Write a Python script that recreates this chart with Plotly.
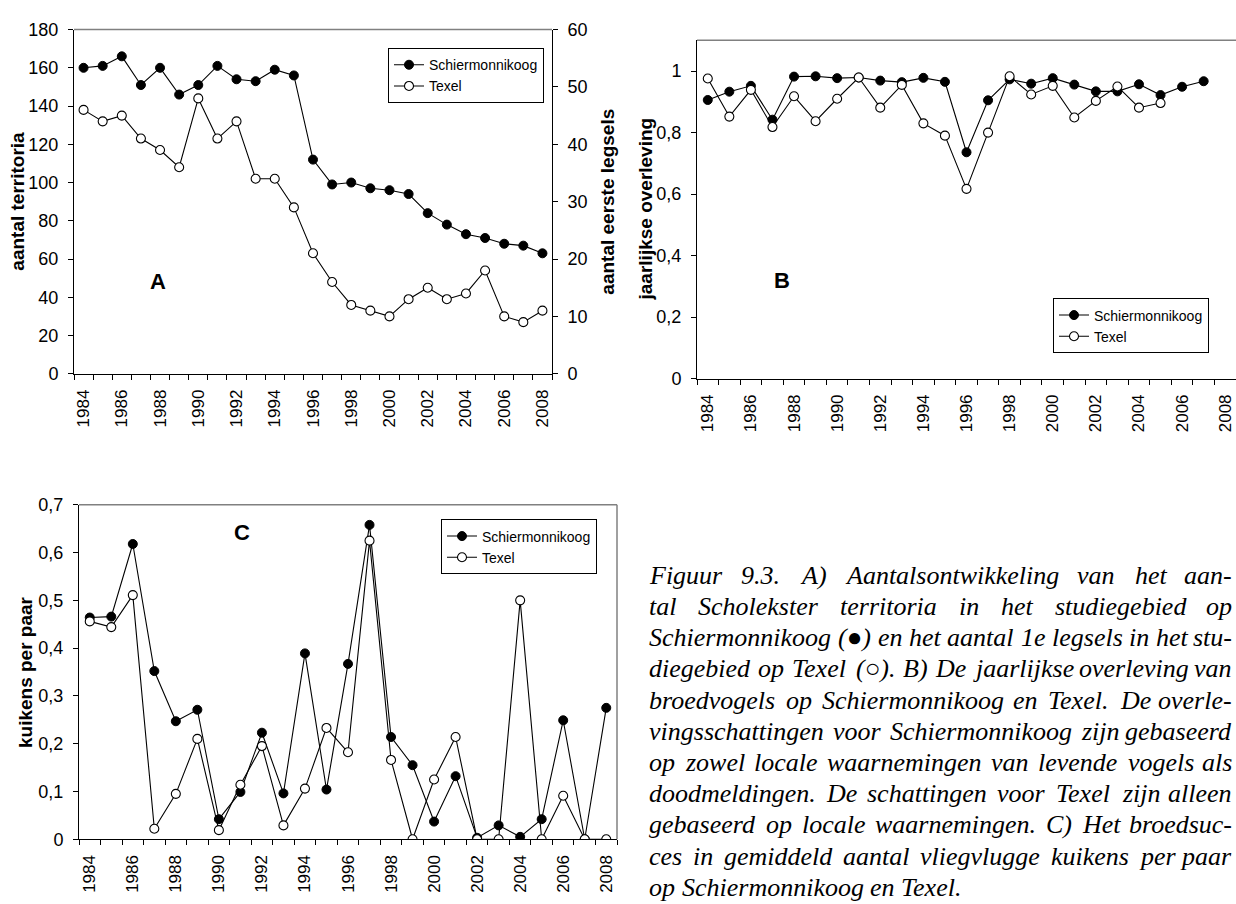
import plotly.graph_objects as go

# ---------------- data ----------------
years = list(range(1984, 2009))
label_years = list(range(1984, 2009, 2))

# A) territories on Schiermonnikoog (left axis) and first clutches on Texel (right axis)
a_territoria_schier = [160, 161, 166, 151, 160, 146, 151, 161, 154, 153, 159, 156, 112,
                       99, 100, 97, 96, 94, 84, 78, 73, 71, 68, 67, 63]
a_legsels_texel = [46, 44, 45, 41, 39, 36, 48, 41, 44, 34, 34, 29, 21,
                   16, 12, 11, 10, 13, 15, 13, 14, 18, 10, 9, 11]

# B) annual survival of breeding birds
b_overleving_schier = [0.906, 0.933, 0.952, 0.842, 0.982, 0.983, 0.977, 0.979, 0.969, 0.964,
                       0.978, 0.965, 0.736, 0.905, 0.973, 0.959, 0.977, 0.956, 0.934, 0.934,
                       0.957, 0.922, 0.949, 0.967, None]
b_overleving_texel = [0.976, 0.852, 0.939, 0.818, 0.918, 0.837, 0.910, 0.979, 0.881, 0.955,
                      0.830, 0.790, 0.617, 0.800, 0.983, 0.924, 0.952, 0.849, 0.903, 0.950,
                      0.881, 0.896, None, None, None]

# C) fledged chicks per pair
c_kuikens_schier = [0.464, 0.466, 0.618, 0.352, 0.247, 0.271, 0.042, 0.099, 0.223, 0.096,
                    0.389, 0.104, 0.367, 0.658, 0.214, 0.155, 0.037, 0.132, 0.003, 0.029,
                    0.005, 0.042, 0.249, 0.0, 0.275]
c_kuikens_texel = [0.456, 0.444, 0.511, 0.022, 0.095, 0.210, 0.019, 0.114, 0.195, 0.029,
                   0.106, 0.233, 0.182, 0.625, 0.166, 0.0, 0.125, 0.214, 0.0, 0.0,
                   0.500, 0.0, 0.091, 0.0, 0.0]

series_names = ["Schiermonnikoog", "Texel"]

caption_lines = [
    "Figuur 9.3. A) Aantalsontwikkeling van het aan-",
    "tal Scholekster territoria in het studiegebied op",
    "Schiermonnikoog (\u25cf) en het aantal 1e legsels in het stu-",
    "diegebied op Texel (\u25cb). B) De jaarlijkse overleving van",
    "broedvogels op Schiermonnikoog en Texel. De overle-",
    "vingsschattingen voor Schiermonnikoog zijn gebaseerd",
    "op zowel locale waarnemingen van levende vogels als",
    "doodmeldingen. De schattingen voor Texel zijn alleen",
    "gebaseerd op locale waarnemingen. C) Het broedsuc-",
    "ces in gemiddeld aantal vliegvlugge kuikens per paar",
    "op Schiermonnikoog en Texel.",
]

# ---------------- page geometry ----------------
W_PX, H_PX = 1236, 904
SANS = "Liberation Sans, Arial, sans-serif"
SERIF = "Liberation Serif, Times New Roman, serif"
GREY = "#808080"


def px(x):
    return x / W_PX


def py(y):
    return 1 - y / H_PX


fig = go.Figure()


def add_pair(xa, ya_filled, ya_open, y_filled, y_open, legend):
    fig.add_trace(go.Scatter(
        x=years, y=y_filled, name=series_names[0], mode="lines+markers",
        xaxis=xa, yaxis=ya_filled, legend=legend,
        line=dict(color="black", width=1.1),
        marker=dict(symbol="circle", size=9, color="black",
                    line=dict(color="black", width=1)),
    ))
    fig.add_trace(go.Scatter(
        x=years, y=y_open, name=series_names[1], mode="lines+markers",
        xaxis=xa, yaxis=ya_open, legend=legend,
        line=dict(color="black", width=1.1),
        marker=dict(symbol="circle", size=9, color="white",
                    line=dict(color="black", width=1.1)),
    ))


add_pair("x", "y", "y4", a_territoria_schier, a_legsels_texel, "legend")
add_pair("x2", "y2", "y2", b_overleving_schier, b_overleving_texel, "legend2")
add_pair("x3", "y3", "y3", c_kuikens_schier, c_kuikens_texel, "legend3")

boundaries = [years[0] - 0.5 + i for i in range(len(years) + 1)]


def xaxis_style(domain, anchor):
    return dict(
        domain=domain, anchor=anchor, range=[years[0] - 0.5, years[-1] + 0.5],
        showline=True, linecolor="black", linewidth=1, showgrid=False, zeroline=False,
        tickvals=label_years, ticktext=[str(v) for v in label_years], ticks="",
        tickangle=-90, tickfont=dict(family=SANS, size=17, color="black"),
        ticklabelstandoff=8,
        minor=dict(tickvals=boundaries, ticks="outside", ticklen=5,
                   tickcolor="black", tickwidth=1, showgrid=False),
    )


def yaxis_style(domain, anchor, rng, dtick, side="left"):
    return dict(
        domain=domain, anchor=anchor, range=rng, dtick=dtick, side=side,
        showline=True, linecolor="black", linewidth=1, showgrid=False, zeroline=False,
        ticks="outside", ticklen=5, tickcolor="black", tickwidth=1,
        tickfont=dict(family=SANS, size=18, color="black"), ticklabelstandoff=6,
    )


dom_a_x, dom_a_y = [px(74), px(552)], [py(372), py(20)]
dom_b_x, dom_b_y = [px(697), 1.0], [py(377), py(31)]
dom_c_x, dom_c_y = [px(79), px(617)], [py(848), py(506)]

fig.update_layout(
    width=W_PX, height=H_PX, margin=dict(l=0, r=0, t=0, b=0),
    paper_bgcolor="white", plot_bgcolor="white", separators=",.",
    xaxis=xaxis_style(dom_a_x, "y"),
    xaxis2=xaxis_style(dom_b_x, "y2"),
    xaxis3=xaxis_style(dom_c_x, "y3"),
    yaxis=yaxis_style(dom_a_y, "x", [0, 180], 20),
    yaxis4=dict(yaxis_style(dom_a_y, "x", [0, 60], 10, side="right"), overlaying="y"),
    yaxis2=yaxis_style(dom_b_y, "x2", [0, 1.1], 0.2),
    yaxis3=yaxis_style(dom_c_y, "x3", [0, 0.7], 0.1),
)


def legend_style(x, y):
    return dict(x=px(x), y=py(y), xanchor="left", yanchor="top", bgcolor="white",
                bordercolor="black", borderwidth=1, itemwidth=30, tracegroupgap=0,
                font=dict(family=SANS, size=14, color="black"))


fig.update_layout(legend=legend_style(388, 39),
                  legend2=legend_style(1053, 295),
                  legend3=legend_style(441, 521))

# grey frame lines on the open sides of each panel
shapes = []
for xr, yr, right in (("x", "y", False), ("x2", "y2", False), ("x3", "y3", True)):
    shapes.append(dict(type="line", xref=f"{xr} domain", yref=f"{yr} domain",
                       x0=0, x1=1, y0=1, y1=1, line=dict(color=GREY, width=1.5)))
    if right:
        shapes.append(dict(type="line", xref=f"{xr} domain", yref=f"{yr} domain",
                           x0=1, x1=1, y0=0, y1=1, line=dict(color=GREY, width=1.5)))
fig.update_layout(shapes=shapes)

ann = []
# panel letters
for letter, (lx, ly) in {"A": (158, 278), "B": (782, 277), "C": (242, 534)}.items():
    ann.append(dict(text=f"<b>{letter}</b>", x=px(lx), y=py(ly), xref="paper", yref="paper",
                    xanchor="center", yanchor="middle", showarrow=False,
                    font=dict(family=SANS, size=22, color="black")))
# axis titles
for title, (tx, ty) in {"aantal territoria": (18, 196), "aantal eerste legsels": (608, 196),
                        "jaarlijkse overleving": (645, 204),
                        "kuikens per paar": (25, 677)}.items():
    ann.append(dict(text=f"<b>{title}</b>", x=px(tx), y=py(ty), xref="paper", yref="paper",
                    xanchor="center", yanchor="middle", textangle=-90, showarrow=False,
                    font=dict(family=SANS, size=19, color="black")))

# justified italic caption, laid out word by word with Times-Italic advance widths
TIMES_I = {" ": 250, "(": 333, ")": 333, ",": 250, "-": 333, ".": 250,
           "A": 611, "B": 611, "C": 667, "D": 722, "E": 611, "F": 611, "G": 722, "H": 722,
           "I": 333, "S": 500, "T": 556,
           "a": 500, "b": 500, "c": 444, "d": 500, "e": 444, "f": 278, "g": 500, "h": 500,
           "i": 278, "j": 278, "k": 444, "l": 278, "m": 722, "n": 500, "o": 500, "p": 500,
           "q": 500, "r": 389, "s": 389, "t": 278, "u": 500, "v": 444, "w": 667, "x": 444,
           "y": 444, "z": 389, "\u25cf": 604, "\u25cb": 604}
CAP_FS = 26
CAP_X0, CAP_X1 = 648, 1233
CAP_BASE0, CAP_STEP = 586, 31.9


def text_width(s):
    return sum(TIMES_I.get(ch, 500) for ch in s) / 1000 * CAP_FS


for i, line in enumerate(caption_lines):
    words = line.split(" ")
    base = CAP_BASE0 + i * CAP_STEP
    widths = [text_width(w) for w in words]
    last = i == len(caption_lines) - 1
    gap = text_width(" ") if last else (CAP_X1 - CAP_X0 - sum(widths)) / (len(words) - 1)
    xpos = CAP_X0
    for j, (w, wd) in enumerate(zip(words, widths)):
        at_end = (j == len(words) - 1) and not last
        ann.append(dict(text=f"<i>{w}</i>", x=px(CAP_X1 if at_end else xpos),
                        y=py(base - 0.3 * CAP_FS), xref="paper", yref="paper",
                        xanchor="right" if at_end else "left", yanchor="middle",
                        showarrow=False, borderpad=0,
                        font=dict(family=SERIF, size=CAP_FS, color="black")))
        xpos += wd + gap

fig.update_layout(annotations=ann)

fig.write_html("out.html")
